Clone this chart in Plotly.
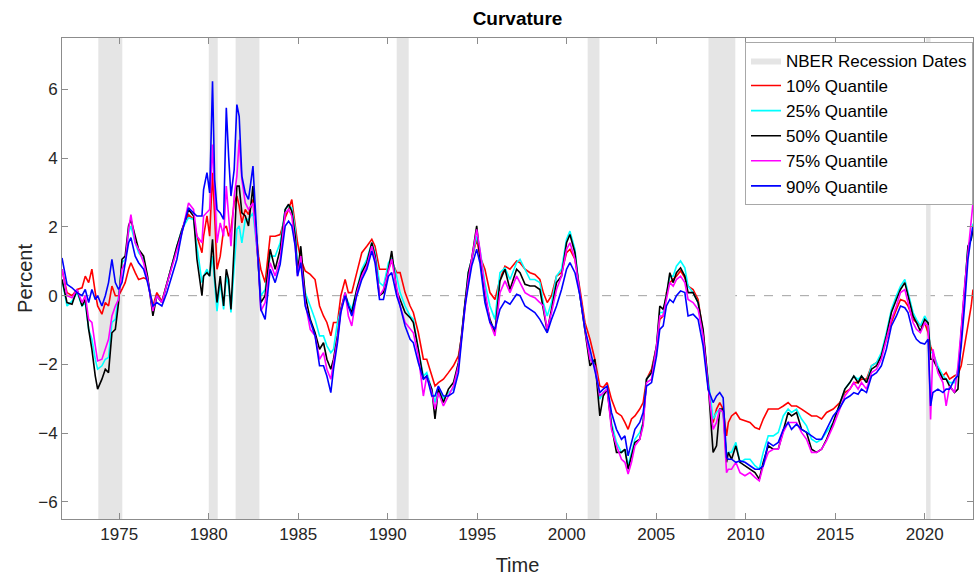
import plotly.graph_objects as go

# ---------------- data ----------------
dates = [1971.80, 1972.08, 1972.36, 1972.64, 1972.92, 1973.10, 1973.29, 1973.47, 1973.66, 1973.79,
         1974.03, 1974.22, 1974.40, 1974.59, 1974.78, 1974.96, 1975.15, 1975.33, 1975.52, 1975.65,
         1975.89, 1976.08, 1976.36, 1976.58, 1976.88, 1977.10, 1977.38, 1977.66, 1978.03, 1978.22,
         1978.50, 1978.87, 1979.15, 1979.34, 1979.62, 1979.71, 1979.90, 1980.05, 1980.21, 1980.33,
         1980.46, 1980.64, 1980.83, 1980.98, 1981.11, 1981.24, 1981.42, 1981.57, 1981.70, 1981.85,
         1982.04, 1982.22, 1982.47, 1982.78, 1982.91, 1983.15, 1983.43, 1983.71, 1983.99, 1984.27,
         1984.46, 1984.64, 1984.83, 1984.96, 1985.14, 1985.39, 1985.67, 1985.94, 1986.19, 1986.41,
         1986.60, 1986.82, 1986.97, 1987.19, 1987.38, 1987.62, 1987.80, 1987.99, 1988.27, 1988.55,
         1988.83, 1989.11, 1989.29, 1989.54, 1989.76, 1990.04, 1990.22, 1990.50, 1990.69, 1990.97,
         1991.25, 1991.43, 1991.71, 1991.99, 1992.18, 1992.46, 1992.64, 1992.83, 1993.11, 1993.39,
         1993.67, 1993.95, 1994.13, 1994.32, 1994.50, 1994.69, 1994.97, 1995.15, 1995.43, 1995.71,
         1995.99, 1996.27, 1996.55, 1996.83, 1997.20, 1997.39, 1997.67, 1997.95, 1998.22, 1998.50,
         1998.69, 1998.91, 1999.15, 1999.43, 1999.71, 1999.99, 2000.18, 2000.46, 2000.74, 2001.02,
         2001.30, 2001.57, 2001.85, 2002.04, 2002.26, 2002.50, 2002.78, 2003.06, 2003.25, 2003.43,
         2003.62, 2003.81, 2004.08, 2004.27, 2004.46, 2004.74, 2005.02, 2005.20, 2005.39, 2005.57,
         2005.76, 2005.95, 2006.13, 2006.36, 2006.60, 2006.78, 2007.06, 2007.34, 2007.62, 2007.90,
         2008.18, 2008.37, 2008.55, 2008.74, 2008.93, 2009.03, 2009.21, 2009.45, 2009.68, 2009.96,
         2010.24, 2010.52, 2010.76, 2010.98, 2011.26, 2011.54, 2011.82, 2012.10, 2012.37, 2012.56,
         2012.84, 2013.12, 2013.40, 2013.68, 2013.96, 2014.24, 2014.52, 2014.89, 2015.26, 2015.54,
         2015.82, 2016.04, 2016.28, 2016.47, 2016.75, 2017.03, 2017.31, 2017.58, 2017.86, 2018.14,
         2018.42, 2018.65, 2018.89, 2019.07, 2019.35, 2019.54, 2019.76, 2020.00,
         2020.19, 2020.33, 2020.46, 2020.74, 2021.02, 2021.20, 2021.39, 2021.67, 2021.86, 2022.04,
         2022.23, 2022.42, 2022.60, 2022.70]

q10 = [0.77, 0.09, 0, 0.18, 0.23, 0.57, 0.38, 0.77, 0.09, -0.30,
       -0.54, -0.20, -0.30, 0.28, 0, 0, 0.18, 0.38, 0.77, 0.96,
       0.67, 0.47, 0.52, 0.47, -0.30, 0.09, -0.16, 0.38, 1.06, 1.44,
       1.93, 2.36, 2.22, 1.73, 1.25, 1.73, 2.32, 1.73, 3.58, 2.32,
       0.77, 1.15, 1.93, 2.03, 1.73, 1.93, 2.70, 2.90, 2.61, 2.12,
       2.51, 2.36, 2.80, 1.15, 0.77, 0.38, 1.73, 1.73, 1.78, 2.27,
       2.51, 2.80, 2.03, 1.54, 1.06, 0.72, 0.62, 0.47, -0.30, -0.59,
       -0.78, -1.17, -0.78, -0.78, 0, 0.47, 0.09, 0.09, 0.67, 1.25,
       1.44, 1.64, 1.44, 0.77, 0.77, 0.77, 1.01, 0.67, 0.67, 0.09,
       -0.30, -0.49, -1.08, -1.85, -1.85, -2.34, -2.63, -2.53, -2.43, -2.24,
       -2.04, -1.75, -1.17, -0.20, 0.38, 1.06, 1.64, 1.15, 0.77, 0.09,
       -0.11, 0.47, 0.86, 0.77, 1.01, 0.96, 0.77, 0.67, 0.62, 0.47,
       0.09, -0.20, 0, 0.57, 0.67, 1.25, 1.35, 1.06, 0.18, -0.78,
       -1.27, -1.85, -2.63, -2.67, -2.53, -3.01, -3.40, -3.50, -3.69, -3.89,
       -3.59, -3.50, -3.30, -3.11, -2.43, -2.14, -1.46, -0.69, -0.59, 0.09,
       0.38, 0.47, 0.57, 0.72, 0.52, 0.28, 0.18, -0.11, -1.08, -2.63,
       -3.69, -3.30, -3.11, -3.30, -4.08, -3.69, -3.50, -3.40, -3.59, -3.64,
       -3.69, -3.84, -3.89, -3.59, -3.30, -3.30, -3.30, -3.21, -3.11, -3.21,
       -3.21, -3.30, -3.40, -3.50, -3.50, -3.59, -3.40, -3.30, -3.11, -2.82,
       -2.72, -2.53, -2.53, -2.43, -2.43, -2.04, -1.95, -1.75, -1.27, -0.78,
       -0.40, -0.11, -0.16, -0.30, -0.69, -0.78, -0.88, -0.79,
       -1.08, -1.47, -1.66, -2.14, -2.33, -2.24, -2.43, -2.33, -2.29, -2.04,
       -1.47, -0.79, -0.30, 0.18]

q25 = [0.47, -0.30, -0.16, 0.09, -0.30, -0.20, -0.98, -1.27, -1.85, -2.14,
       -2.04, -1.85, -1.80, -0.78, -0.69, 0, 0.96, 1.06, 1.83, 2.03,
       1.54, 1.25, 1.06, 0.52, -0.40, 0, -0.20, 0.38, 1.06, 1.44,
       1.93, 2.27, 2.22, 1.44, 0.38, 0.57, 0.77, 0.57, 1.15, 0.38,
       -0.45, 0.38, -0.40, 0.57, 0.28, -0.49, 0.96, 1.93, 2.03, 1.54,
       2.22, 2.22, 2.41, 0.96, 0, 0.18, 1.15, 1.15, 1.54, 2.51,
       2.61, 2.56, 1.93, 0.86, 1.15, 0.09, -0.30, -0.69, -1.17, -1.17,
       -1.46, -1.66, -1.56, -0.78, -0.40, 0, -0.20, -0.40, 0.18, 0.77,
       1.06, 1.54, 1.25, 0.38, 0.28, 0.96, 1.10, 0.57, 0.09, -0.30,
       -0.59, -0.69, -1.56, -2.34, -2.24, -2.72, -3.11, -2.72, -3.01, -2.82,
       -2.72, -1.95, -1.17, -0.16, 0.67, 1.06, 1.73, 1.35, 0.38, -0.30,
       -0.69, 0.67, 0.81, 0.47, 0.96, 1.06, 0.77, 0.47, 0.47, 0.38,
       -0.20, -0.59, -0.20, 0.57, 0.77, 1.64, 1.88, 1.35, 0, -0.98,
       -1.85, -1.95, -3.01, -2.82, -2.72, -3.69, -4.27, -4.56, -4.47, -4.95,
       -4.56, -4.18, -3.98, -3.69, -2.43, -2.24, -1.46, -0.49, -0.49, 0.09,
       0.57, 0.57, 0.86, 1.01, 0.81, 0.28, 0.09, -0.20, -1.17, -2.43,
       -3.59, -3.40, -3.30, -3.40, -4.71, -4.56, -4.56, -4.27, -4.85, -4.76,
       -4.76, -4.95, -5.05, -4.56, -4.08, -4.08, -3.98, -3.50, -3.30, -3.40,
       -3.30, -3.59, -3.79, -4.18, -4.27, -4.18, -3.98, -3.69, -3.16, -2.72,
       -2.53, -2.34, -2.43, -2.34, -2.53, -2.04, -1.95, -1.66, -1.08, -0.40,
       0, 0.28, 0.47, 0.09, -0.49, -0.69, -0.88, -0.59,
       -0.79, -1.66, -1.66, -2.05, -2.33, -2.43, -2.53, -2.53, -2.14, -1.08,
       0.18, 1.44, 1.64, 2.10]

q50 = [0.47, -0.20, -0.25, 0.18, -0.30, -0.11, -0.98, -1.56, -2.34, -2.72,
       -2.43, -2.14, -2.24, -1.08, -0.98, -0.20, 1.06, 1.15, 2.03, 2.22,
       1.73, 1.35, 1.15, 0.57, -0.59, 0, -0.20, 0.38, 1.06, 1.44,
       1.93, 2.51, 2.32, 1.06, 0, 0.57, 0.67, 0.57, 1.64, 0.57,
       -0.20, 0.57, -0.30, 0.77, 0.47, -0.40, 1.44, 3.19, 3.19, 2.41,
       2.32, 2.03, 3.19, 0.96, -0.20, 0, 1.35, 0.77, 1.35, 2.51,
       2.66, 2.46, 1.73, 0.67, 1.44, 0, -0.69, -1.08, -1.56, -1.37,
       -1.85, -2.14, -1.85, -1.17, -0.40, 0.09, -0.30, -0.49, 0.18, 0.67,
       0.96, 1.54, 1.15, 0, 0.09, 0.77, 1.30, 0.14, -0.11, -0.49,
       -0.64, -0.78, -1.56, -2.43, -2.34, -2.72, -3.59, -2.72, -3.11, -2.72,
       -2.53, -1.95, -1.12, -0.11, 0.67, 1.06, 2.03, 1.15, 0, -0.69,
       -1.08, 0.43, 0.77, 0.18, 0.77, 0.67, 0.33, 0.28, 0.28, 0.18,
       -0.40, -1.03, -0.40, 0.38, 0.57, 1.54, 1.78, 1.25, 0, -0.98,
       -2.04, -1.85, -3.50, -2.92, -2.72, -3.79, -4.56, -4.56, -4.47, -5.05,
       -4.66, -4.27, -4.18, -3.69, -2.43, -2.24, -1.46, -0.30, -0.40, 0,
       0.67, 0.38, 0.67, 0.81, 0.57, 0.09, 0.09, -0.20, -0.98, -2.53,
       -4.56, -4.37, -3.30, -3.30, -4.85, -4.56, -4.76, -4.37, -4.85, -4.95,
       -5.05, -5.15, -5.34, -4.85, -4.37, -4.47, -4.47, -3.89, -3.40, -3.50,
       -3.40, -3.89, -3.98, -4.47, -4.56, -4.47, -4.18, -3.69, -3.16, -2.72,
       -2.53, -2.34, -2.53, -2.34, -2.53, -2.14, -2.04, -1.75, -1.17, -0.49,
       -0.11, 0.18, 0.38, 0, -0.59, -0.78, -1.03, -0.69,
       -0.79, -1.85, -1.85, -2.14, -2.43, -2.43, -2.63, -2.82, -2.72, -1.08,
       0.18, 1.44, 1.64, 1.93]

q75 = [0.77, 0, -0.06, 0.18, -0.20, 0, -0.69, -0.78, -1.46, -1.90,
       -1.85, -1.56, -1.27, -0.59, -0.30, -0.11, 0.77, 0.96, 1.93, 2.36,
       1.54, 1.35, 0.96, 0.47, -0.45, 0, -0.20, 0.33, 0.96, 1.35,
       1.83, 2.70, 2.51, 1.73, 1.54, 2.32, 2.41, 2.51, 4.40, 3.09,
       1.54, 2.12, 1.73, 3.19, 2.32, 1.44, 2.90, 3.48, 4.54, 3.38,
       2.70, 2.51, 2.70, 0.86, -0.45, -0.20, 0.96, 0.57, 1.06, 2.41,
       2.51, 2.32, 1.44, 0.57, 1.15, -0.20, -0.98, -1.17, -1.85, -1.66,
       -2.14, -2.43, -1.95, -1.27, -0.45, 0.09, -0.59, -0.88, 0.09, 0.57,
       0.86, 1.44, 1.06, 0, 0.18, 0.77, 1.06, 0.23, -0.30, -0.78,
       -0.98, -1.08, -1.75, -2.92, -2.34, -2.82, -3.30, -2.82, -3.21, -2.92,
       -2.63, -2.04, -1.17, -0.20, 0.47, 1.06, 1.93, 1.35, 0.18, -0.78,
       -1.17, 0.09, 0.43, 0.09, 0.57, 0.38, 0.09, 0, -0.06, -0.20,
       -0.30, -0.98, -0.49, 0.18, 0.57, 1.35, 1.54, 1.06, 0, -0.98,
       -1.85, -2.04, -2.92, -2.82, -2.72, -3.89, -4.37, -4.76, -4.85, -5.19,
       -4.85, -4.37, -4.18, -3.79, -2.53, -2.43, -1.46, -0.59, -0.59, -0.11,
       0.38, 0.28, 0.47, 0.57, 0.38, -0.11, -0.20, -0.40, -1.17, -2.63,
       -3.89, -3.69, -3.30, -3.40, -5.15, -5.05, -5.05, -4.85, -5.15, -5.24,
       -5.15, -5.29, -5.39, -4.95, -4.56, -4.47, -4.47, -3.98, -3.69, -3.69,
       -3.69, -3.98, -4.18, -4.56, -4.56, -4.47, -4.22, -3.79, -3.30, -2.92,
       -2.72, -2.53, -2.72, -2.53, -2.72, -2.24, -2.14, -1.85, -1.27, -0.69,
       -0.30, 0.09, 0.18, -0.20, -0.78, -0.98, -1.08, -0.79,
       -0.88, -3.60, -1.56, -2.24, -2.53, -3.21, -2.63, -2.82, -2.04, -0.98,
       0.28, 1.25, 2.20, 2.70]

q90 = [1.10, 0.33, 0.23, 0.09, 0, 0.18, -0.20, 0.18, -0.11, 0,
       -0.30, 0, 0.38, 1.06, 0.38, 0.18, 0.38, 0.96, 1.54, 1.69,
       1.15, 0.96, 0.77, 0.38, -0.30, -0.20, -0.30, 0.09, 0.77, 1.06,
       1.83, 2.56, 2.41, 2.32, 2.32, 3.09, 3.58, 2.99, 6.24, 3.38,
       2.51, 2.41, 2.22, 5.47, 4.06, 2.90, 3.67, 5.56, 5.22, 3.48,
       2.99, 2.80, 3.77, 0.96, -0.40, -0.69, 0.77, 0.38, 0.91, 2.03,
       2.17, 2.03, 1.44, 0.57, 0.96, -0.30, -0.78, -1.17, -2.04, -2.04,
       -2.34, -2.82, -2.14, -1.37, -0.49, 0, -0.30, -0.59, 0, 0.47,
       0.77, 1.30, 0.96, -0.11, -0.11, 0.57, 0.67, 0, -0.30, -0.88,
       -1.27, -1.37, -1.95, -2.43, -2.34, -2.92, -2.92, -2.63, -2.92, -2.92,
       -2.82, -2.24, -1.27, -0.30, 0.28, 0.86, 1.35, 0.96, -0.20, -0.78,
       -0.98, -0.40, -0.16, -0.25, 0.04, 0, -0.30, -0.40, -0.49, -0.69,
       -0.88, -1.08, -0.69, -0.30, 0.18, 0.77, 0.96, 0.67, 0, -0.98,
       -1.56, -2.14, -2.82, -2.72, -2.63, -3.40, -3.89, -4.18, -4.08, -4.66,
       -4.27, -3.89, -3.69, -3.40, -2.63, -2.53, -1.75, -0.98, -0.88, -0.30,
       -0.11, -0.20, 0, 0.14, 0.09, -0.59, -0.54, -0.69, -1.46, -2.72,
       -3.11, -2.92, -2.82, -2.97, -4.71, -4.76, -4.76, -4.85, -4.81, -4.85,
       -4.95, -5.05, -5.05, -4.95, -4.27, -4.37, -4.27, -3.89, -3.69, -3.89,
       -3.74, -3.89, -3.98, -4.08, -4.18, -4.18, -3.89, -3.50, -3.26, -3.01,
       -2.92, -2.82, -2.87, -2.72, -2.82, -2.34, -2.24, -2.04, -1.56, -0.88,
       -0.59, -0.30, -0.35, -0.49, -1.08, -1.27, -1.37, -1.41,
       -1.27, -3.21, -2.82, -2.72, -2.82, -2.72, -2.72, -2.43, -2.33, -1.47,
       -0.30, 1.06, 1.73, 2.03]

series_names = ["10% Quantile", "25% Quantile", "50% Quantile", "75% Quantile", "90% Quantile"]
series_colors = ["#FF0000", "#00FFFF", "#000000", "#FF00FF", "#0000FF"]

rec_start = [1973.83, 1980.00, 1981.50, 1990.50, 2001.17, 2007.92, 2020.08]
rec_end = [1975.17, 1980.50, 1982.83, 1991.17, 2001.83, 2009.42, 2020.33]

x_tick_vals = [1975, 1980, 1985, 1990, 1995, 2000, 2005, 2010, 2015, 2020]
y_tick_vals = [-6, -4, -2, 0, 2, 4, 6]
x_range = [1971.8, 2022.7]
y_range = [-6.5, 7.5]

for s in (q10, q25, q50, q75, q90):
    assert len(s) == len(dates), (len(s), len(dates))

# ---------------- figure ----------------
fig = go.Figure()

# recession shading (one filled trace so it appears once in the legend)
rx, ry = [], []
for a, b in zip(rec_start, rec_end):
    rx += [a, b, b, a, a, None]
    ry += [y_range[0], y_range[0], y_range[1], y_range[1], y_range[0], None]
fig.add_trace(go.Scatter(x=rx, y=ry, mode="lines", fill="toself",
                         fillcolor="#E5E5E5", line=dict(width=0, color="#E5E5E5"),
                         name="NBER Recession Dates", hoverinfo="skip"))

for name, color, vals in zip(series_names, series_colors, [q10, q25, q50, q75, q90]):
    fig.add_trace(go.Scatter(x=dates, y=vals, mode="lines", name=name,
                             line=dict(color=color, width=1.6)))

fig.add_shape(type="line", xref="paper", x0=0, x1=1, yref="y", y0=0, y1=0,
              line=dict(color="#A0A0A0", width=1, dash="dash"), layer="below")

axis_common = dict(showline=True, linecolor="#8C8C8C", linewidth=1, mirror="ticks",
                   ticks="inside", ticklen=6, tickcolor="#8C8C8C", showgrid=False,
                   zeroline=False, tickfont=dict(size=17, color="#262626"))

fig.update_layout(
    width=974, height=576,
    paper_bgcolor="white", plot_bgcolor="white",
    font=dict(family="Liberation Sans, Arial, sans-serif", color="#262626"),
    margin=dict(l=62, r=1, t=38, b=57, autoexpand=False),
    title=dict(text="<b>Curvature</b>", x=0.5, xref="paper", xanchor="center",
               y=0.968, yref="container", yanchor="middle",
               font=dict(size=19, color="#000000")),
    xaxis=dict(range=x_range, tickvals=x_tick_vals, autorange=False,
               title=dict(text="Time", font=dict(size=20, color="#262626"), standoff=14),
               **axis_common),
    yaxis=dict(range=y_range, tickvals=y_tick_vals, autorange=False,
               title=dict(text="Percent", font=dict(size=20, color="#262626"), standoff=0),
               **axis_common),
    legend=dict(x=1, y=0.992, xanchor="right", yanchor="top",
                bgcolor="white", bordercolor="#A8A8A8", borderwidth=1,
                font=dict(size=17, color="#000000"), tracegroupgap=0,
                itemwidth=30),
    showlegend=True,
)

fig.write_html("out.html", config={"displayModeBar": False},
               post_script="document.body.style.margin='0px';")
